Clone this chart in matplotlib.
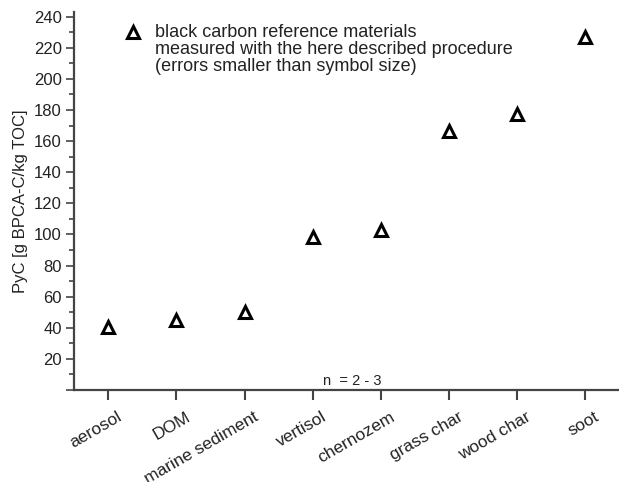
import matplotlib.pyplot as plt
import numpy as np
from matplotlib.ticker import MultipleLocator, FuncFormatter
from matplotlib.transforms import ScaledTranslation

plt.rcParams['font.family'] = ['Liberation Sans', 'DejaVu Sans']

### data
materials = ['aerosol', 'DOM', 'marine sediment', 'vertisol',
             'chernozem', 'grass char', 'wood char', 'soot']
pyc = [40.3, 44.9, 50.0, 98.6, 103.1, 166.5, 177.5, 226.7]
legend_label = ('black carbon reference materials\n'
                'measured with the here described procedure\n'
                '(errors smaller than symbol size)')
n_note = 'n  = 2 - 3'

axis_col = '#444444'
txt_col = '#222222'
mstyle = dict(linestyle='none', marker='^', markersize=9,
              markerfacecolor='white', markeredgecolor='black',
              markeredgewidth=2.2)

fig = plt.figure(figsize=(6.19, 4.82), dpi=100)
ax = fig.add_axes([0.12, 0.191, 0.88, 0.784])

x = np.arange(1, len(materials) + 1)
ax.plot(x, pyc, **mstyle)

ax.set_xlim(0.5, 8.5)
ax.set_ylim(0, 243)

ax.yaxis.set_major_locator(MultipleLocator(20))
ax.yaxis.set_minor_locator(MultipleLocator(10))
ax.yaxis.set_major_formatter(FuncFormatter(lambda v, p: '' if v == 0 else '%d' % v))
ax.tick_params(axis='y', which='major', length=6, width=1.2,
               color=axis_col, labelsize=12, labelcolor=txt_col, pad=3)
ax.tick_params(axis='y', which='minor', length=3.5, width=1.2, color=axis_col)
ax.tick_params(axis='x', which='major', length=7, width=1.5,
               color=axis_col, pad=7)

ax.set_xticks(x)
ax.set_xticklabels(materials, rotation=30, ha='right', va='top',
                   rotation_mode='anchor', fontsize=12.5, color=txt_col)
# shift the rotated labels a bit to the right, like the original
shift = ScaledTranslation(9 / 100, 0, fig.dpi_scale_trans)
for lab in ax.get_xticklabels():
    lab.set_transform(lab.get_transform() + shift)

for s in ['top', 'right']:
    ax.spines[s].set_visible(False)
for s in ['left', 'bottom']:
    ax.spines[s].set_color(axis_col)
    ax.spines[s].set_linewidth(1.6)

ax.set_ylabel('PyC [g BPCA-C/kg TOC]', fontsize=12, color=txt_col,
              labelpad=4)

ax.text(4.15, 3, n_note, fontsize=10.5, color=txt_col, va='baseline')

# key: symbol next to the first line of the note
ax.plot([0.108], [0.947], transform=ax.transAxes, clip_on=False, **mstyle)
ax.text(0.149, 0.968, legend_label, transform=ax.transAxes, va='top',
        ha='left', fontsize=13, color=txt_col, linespacing=1.0)

fig.savefig('out.png', dpi=100)
